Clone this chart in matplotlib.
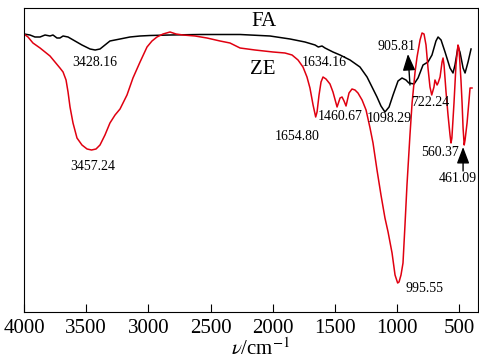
import matplotlib
matplotlib.use("Agg")
import matplotlib.pyplot as plt

plt.rcParams['font.family'] = ['Liberation Serif', 'DejaVu Serif']
plt.rcParams['mathtext.fontset'] = 'stix'

# FA spectrum (wavenumber, relative transmittance)
fa_wn = [4000, 3952, 3912, 3871, 3831, 3791, 3767, 3735, 3711, 3686,
         3646, 3590, 3534, 3469, 3428, 3389, 3349, 3309, 3228, 3148,
         3067, 2987, 2826, 2585, 2263, 2022, 1861, 1741, 1660, 1634,
         1604, 1580, 1516, 1459, 1379, 1299, 1242, 1202, 1162, 1130,
         1098, 1065, 1033, 993, 961, 929, 906, 864, 832, 792,
         752, 720, 688, 671, 647, 615, 575, 551, 535, 511,
         495, 470, 454, 430, 406]
fa_t = [278, 277, 275, 275, 277, 276, 277, 274, 274, 276,
        275, 271, 267, 263, 262, 263, 267, 271, 273, 275,
        276, 276.5, 277, 277.5, 277.5, 276, 273, 270, 267, 265,
        266, 264, 260, 257, 252, 245, 235, 225, 215, 206,
        200, 205, 217, 231, 234, 232, 229, 228, 234, 247,
        250, 257, 271, 275, 272, 260, 244, 239, 247, 265,
        260, 244, 239, 250, 263]

# ZE spectrum
ze_wn = [4000, 3968, 3928, 3871, 3831, 3791, 3751, 3711, 3686, 3662,
         3646, 3630, 3606, 3574, 3534, 3493, 3457, 3421, 3389, 3349,
         3309, 3268, 3228, 3172, 3124, 3067, 3011, 2971, 2931, 2882,
         2826, 2778, 2722, 2625, 2529, 2424, 2344, 2263, 2143, 1998,
         1902, 1845, 1797, 1757, 1725, 1701, 1676, 1655, 1644, 1628,
         1612, 1596, 1572, 1540, 1516, 1483, 1459, 1443, 1427, 1411,
         1387, 1363, 1339, 1315, 1282, 1250, 1218, 1194, 1162, 1130,
         1098, 1073, 1041, 1017, 996, 985, 969, 953, 937, 921,
         897, 880, 856, 840, 816, 800, 784, 768, 752, 736,
         722, 704, 696, 679, 671, 655, 639, 631, 623, 607,
         591, 575, 567, 560, 543, 527, 511, 503, 487, 478,
         470, 461, 454, 438, 422, 414, 398]
ze_t = [278, 275, 269, 264, 260, 256, 250, 244, 240, 232,
        220, 205, 189, 174, 167, 163, 162, 163, 167, 177,
        189, 197, 203, 217, 234, 250, 265, 271, 275, 278,
        280, 278, 277, 276, 274, 271, 269, 264, 262, 260,
        259, 257, 252, 245, 235, 224, 207, 195, 200, 217,
        230, 235, 233, 228, 220, 205, 214, 215, 211, 206,
        219, 223, 222, 219, 212, 202, 184, 169, 142, 117,
        94, 80, 59, 37, 29, 30, 37, 49, 87, 127,
        177, 209, 240, 255, 272, 279, 278, 267, 244, 225,
        217, 225, 232, 227, 229, 235, 250, 254, 247, 220,
        197, 177, 169, 174, 209, 247, 267, 264, 232, 209,
        184, 167, 172, 189, 212, 224, 224]

# Peak labels: (text, x, y)
peak_text = ['3428.16', '3457.24', '1634.16', '1654.80', '1460.67', '1098.29',
             '905.81', '722.24', '560.37', '461.09', '995.55']
peak_x = [3429, 3445, 1588, 1805, 1459, 1065, 1009, 736, 655, 511, 784]
peak_y = [250, 145, 250, 175, 195, 194, 265, 209, 160, 133, 24]

xticks = [4000, 3500, 3000, 2500, 2000, 1500, 1000, 500]

fig = plt.figure(figsize=(4.79, 3.62), dpi=100)
ax = fig.add_axes([24/479, 50/362, 454/479, 304.5/362])

ax.plot(fa_wn, fa_t, color='black', lw=1.1)
ax.plot(ze_wn, ze_t, color='#e00010', lw=1.1)

ax.set_xlim(4000, 350)
ax.set_ylim(0, 304.5)
ax.set_xticks(xticks)
ax.set_yticks([])
ax.tick_params(axis='x', direction='in', length=6, width=0.8, labelsize=15, pad=5)
for s in ax.spines.values():
    s.set_linewidth(0.8)

ax.text(2070, 290, 'FA', fontsize=15, ha='center', va='center')
ax.text(2078, 242, 'ZE', fontsize=15, ha='center', va='center')
for t, x, y in zip(peak_text, peak_x, peak_y):
    ax.text(x, y, t, fontsize=10, ha='center', va='center')

arrow_kw = dict(arrowstyle='-|>,head_length=1.0,head_width=0.38', color='black', lw=1.0,
                shrinkA=0, shrinkB=0)
ax.annotate('', xy=(913, 258), xytext=(897, 227), arrowprops=arrow_kw)
ax.annotate('', xy=(470, 165), xytext=(470, 141), arrowprops=arrow_kw)

ax.set_xlabel(r'$\nu$/cm$^{-1}$', fontsize=15)
ax.xaxis.set_label_coords(0.522, -0.088)

fig.savefig('out.png', dpi=100)
